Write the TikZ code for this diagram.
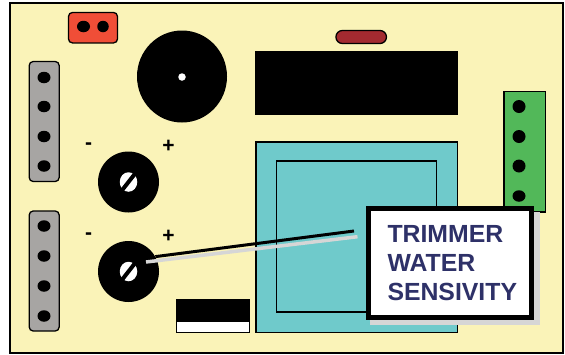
\documentclass[tikz,border=0pt]{standalone}
\usepackage{fontspec}
\setmainfont{Liberation Sans}[BoldFont={Liberation Sans Bold}]
\usetikzlibrary{shapes.geometric}
\definecolor{myboard}{HTML}{FAF3B8}
\definecolor{myred}{HTML}{F04E37}
\definecolor{mygray}{HTML}{A7A5A3}
\definecolor{myteal}{HTML}{6FCACB}
\definecolor{mygreen}{HTML}{52B859}
\definecolor{mybrown}{HTML}{A32A30}
\definecolor{myshadow}{HTML}{D6D6D6}
\definecolor{mynavy}{HTML}{2E3168}
\begin{document}
\begin{tikzpicture}[x=1pt,y=-1pt]
	\tikzset{% This is the style settings for nodes
		boxnode/.style={rectangle,draw=black,line width=1.3pt,inner sep=0pt,outer sep=0pt},
		stripnode/.style={boxnode,rounded corners=4pt,fill=mygray,minimum width=30pt,minimum height=120pt},
		holenode/.style={ellipse,fill=black,inner sep=0pt,minimum width=13pt,minimum height=11.5pt},
		roundhole/.style={circle,fill=black,inner sep=0pt,minimum size=13pt},
		trimmernode/.style={circle,fill=black,inner sep=0pt,minimum size=61pt},
		slotnode/.style={ellipse,fill=white,inner sep=0pt,minimum width=17.5pt,minimum height=19.5pt},
		signnode/.style={inner sep=0pt,font=\bfseries\fontsize{21}{21}\selectfont}}
	\useasboundingbox (0,0) rectangle (565,354);
	\node[boxnode,fill=myboard,minimum width=553pt,minimum height=350pt] (board) at (286.5,178) {};
	\node[boxnode,rounded corners=4pt,fill=myred,minimum width=49pt,minimum height=30.5pt] (jumper) at (93,27.7) {};
	\node[holenode] (jumper1) at (83.5,26.5) {};
	\node[holenode,minimum width=11.5pt] (jumper2) at (103,26.5) {};
	\node[ellipse,fill=black,inner sep=0pt,minimum width=90pt,minimum height=92pt] (buzzer) at (182,76.5) {};
	\node[circle,fill=white,inner sep=0pt,minimum size=7.5pt] (buzzerdot) at (182,77) {};
	\node[boxnode,rounded corners=6.4pt,fill=mybrown,minimum width=50.5pt,minimum height=13pt] (led) at (361.2,37) {};
	\node[rectangle,fill=black,inner sep=0pt,minimum width=203pt,minimum height=64pt] (display) at (356.7,83.3) {};
	% left terminals
	\node[stripnode] (stripA) at (44.2,121.5) {};
	\node[holenode] (a1) at (44,77.5) {};
	\node[holenode] (a2) at (44,106.5) {};
	\node[holenode] (a3) at (44,136.5) {};
	\node[holenode] (a4) at (44,166) {};
	\node[stripnode] (stripB) at (44.2,271) {};
	\node[holenode] (b1) at (44,226) {};
	\node[holenode] (b2) at (44,256) {};
	\node[holenode] (b3) at (44,286) {};
	\node[holenode] (b4) at (44,316) {};
	% right terminal
	\node[boxnode,fill=mygreen,minimum width=41.5pt,minimum height=120.5pt] (stripC) at (524.7,151.7) {};
	\node[roundhole] (c1) at (519,106.5) {};
	\node[roundhole] (c2) at (519,136.5) {};
	\node[roundhole] (c3) at (519,166) {};
	\node[holenode] (c4) at (519,196) {};
	% relay
	\node[boxnode,fill=myteal,minimum width=201.5pt,minimum height=190.5pt] (relay) at (356.7,237.2) {};
	\node[boxnode,fill=myteal,minimum width=160pt,minimum height=151pt] (relayin) at (356.5,236.5) {};
	% switch
	\node[boxnode,fill=white,minimum width=73pt,minimum height=32.5pt] (switch) at (213,316.2) {};
	\node[rectangle,fill=black,inner sep=0pt,minimum width=73pt,minimum height=22pt] (switchtop) at (213,311) {};
	% trimmers
	\node[trimmernode] (trimmerA) at (128.5,182) {};
	\node[slotnode] (slotA) at (128.5,182) {};
	\draw[line width=4pt,shorten <=-2pt,shorten >=-2pt,xshift=0.8pt,yshift=-0.8pt](slotA.52) to (slotA.232);
	\node[trimmernode] (trimmerB) at (128.5,271.5) {};
	\node[slotnode] (slotB) at (128.5,271.5) {};
	\draw[line width=4pt,shorten <=-2pt,shorten >=-2pt,xshift=0.8pt,yshift=-0.8pt](slotB.52) to (slotB.232);
	\node[signnode] (minusA) at (88.5,146) {-};
	\node[signnode] (plusA) at (168.5,146) {+};
	\node[signnode] (minusB) at (88.5,236) {-};
	\node[signnode] (plusB) at (168.5,236.5) {+};
	% leader to the label
	\coordinate (blackend) at (354,231);
	\coordinate (graystart) at (146,262);
	\coordinate (grayend) at (357.5,236.7);
	\draw[line width=3pt](trimmerB.29) to (blackend);
	\draw[line width=3.5pt,color=myshadow](graystart) to (grayend);
	% label
	\node[rectangle,fill=myshadow,inner sep=0pt,minimum width=170pt,minimum height=113pt] (labelshadow) at (455,268.5) {};
	\node[rectangle,draw=black,fill=white,line width=5.2pt,inner sep=0pt,minimum width=163pt,minimum height=109pt,
		text=mynavy,align=left,text width=125pt,font=\bfseries\fontsize{24.8}{29.3}\selectfont] (label) at (450,263) {TRIMMER\\WATER\\SENSIVITY};
\end{tikzpicture}
\end{document}
